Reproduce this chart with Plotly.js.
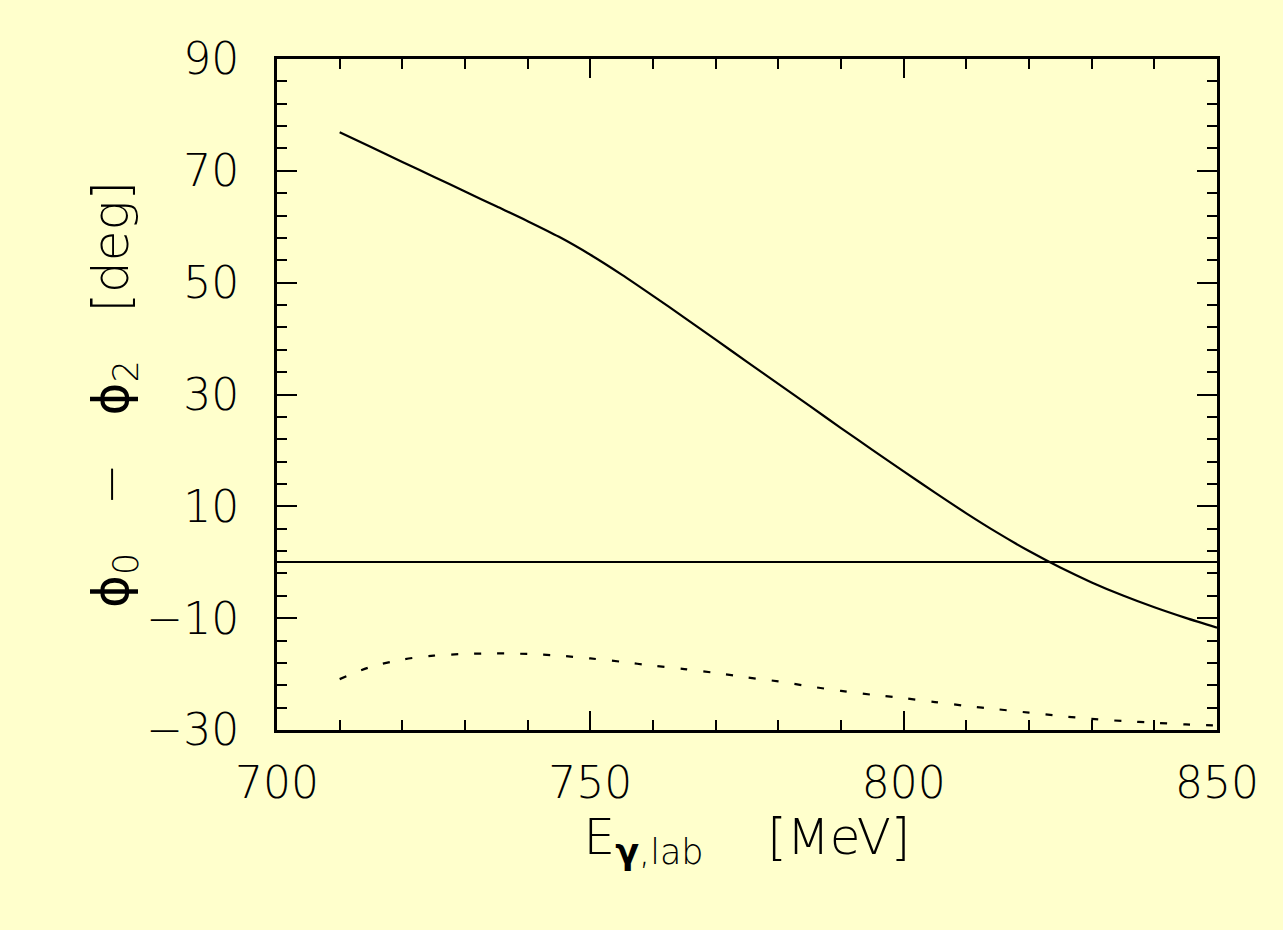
<!DOCTYPE html>
<html>
<head>
<meta charset="utf-8">
<script src="https://cdn.plot.ly/plotly-3.0.1.min.js"></script>
<style>html,body{margin:0;padding:0;background:#ffffcc;}#chart{width:1283px;height:930px;}</style>
</head>
<body>
<div id="chart"></div>
<script>
// Photon lab energy [MeV]
const energy = [710,715,720,725,730,735,740,745,750,755,760,765,770,775,780,785,790,795,800,805,810,815,820,825,830,835,840,845,850];
// Solid curve: phi0 - phi2 [deg]
const phaseDiffSolid = [76.9,74.25,71.6,68.95,66.3,63.65,61.0,58.2,55.0,51.45,47.65,43.75,39.8,35.85,31.9,27.95,24.0,20.1,16.25,12.45,8.75,5.25,2.0,-0.95,-3.6,-5.95,-8.05,-9.95,-11.7];
// Dotted curve
const phaseDiffDotted = [-20.9,-18.7,-17.4,-16.7,-16.4,-16.3,-16.4,-16.7,-17.2,-17.8,-18.5,-19.1,-19.8,-20.6,-21.3,-22.2,-23.0,-23.7,-24.3,-25.0,-25.7,-26.3,-26.9,-27.5,-28.0,-28.4,-28.7,-29.0,-29.2];
const xTicks = [700,750,800,850];
const yTicks = [-30,-10,10,30,50,70,90];

const font = {family: 'DejaVu Sans, sans-serif', color: '#000', weight: 200};

const traces = [
  {x: energy, y: phaseDiffSolid, mode: 'lines', line: {color: '#000', width: 2.2, shape: 'spline', smoothing: 0.8}, showlegend: false, hoverinfo: 'skip'},
  {x: energy, y: phaseDiffDotted, mode: 'lines', line: {color: '#000', width: 2.2, dash: '7px,16px', shape: 'spline', smoothing: 0.8}, showlegend: false, hoverinfo: 'skip'}
];

const layout = {
  width: 1283, height: 930,
  paper_bgcolor: '#ffffcc', plot_bgcolor: '#ffffcc',
  margin: {l: 277, r: 66, t: 59, b: 200},
  font: Object.assign({size: 32}, font),
  xaxis: {
    range: [700, 850], tickmode: 'array', tickvals: xTicks, ticktext: xTicks.map(String),
    ticks: 'inside', ticklen: 19, tickwidth: 2, tickcolor: '#000',
    minor: {tickmode: 'linear', tick0: 700, dtick: 10, ticks: 'inside', ticklen: 10, tickwidth: 2, tickcolor: '#000', showgrid: false},
    showline: true, linewidth: 3, linecolor: '#000', mirror: 'ticks',
    showgrid: false, zeroline: false,
    tickfont: Object.assign({size: 44}, font),
    ticklabelstandoff: 12,
    title: {text: 'E<sub><span style="font-weight:600">γ</span>,lab</sub>    [MeV]', font: Object.assign({size: 50}, font), standoff: 0}
  },
  yaxis: {
    range: [-30, 90], tickmode: 'array', tickvals: yTicks, ticktext: yTicks.map(v => v < 0 ? '\u2212' + Math.abs(v) : String(v)),
    ticks: 'inside', ticklen: 20, tickwidth: 2, tickcolor: '#000',
    minor: {tickmode: 'linear', tick0: -30, dtick: 4, ticks: 'inside', ticklen: 10, tickwidth: 2, tickcolor: '#000', showgrid: false},
    showline: true, linewidth: 3, linecolor: '#000', mirror: 'ticks',
    showgrid: false,
    zeroline: true, zerolinecolor: '#000', zerolinewidth: 2,
    tickfont: Object.assign({size: 44}, font),
    ticklabelstandoff: 26,
    title: {text: '<span style="font-weight:400">ϕ</span><sub>0</sub>   \u2212   <span style="font-weight:400">ϕ</span><sub>2</sub>   [deg]', font: Object.assign({size: 50}, font), standoff: 0}
  }
};

Plotly.newPlot('chart', traces, layout, {displayModeBar: false, staticPlot: true});
</script>
</body>
</html>
